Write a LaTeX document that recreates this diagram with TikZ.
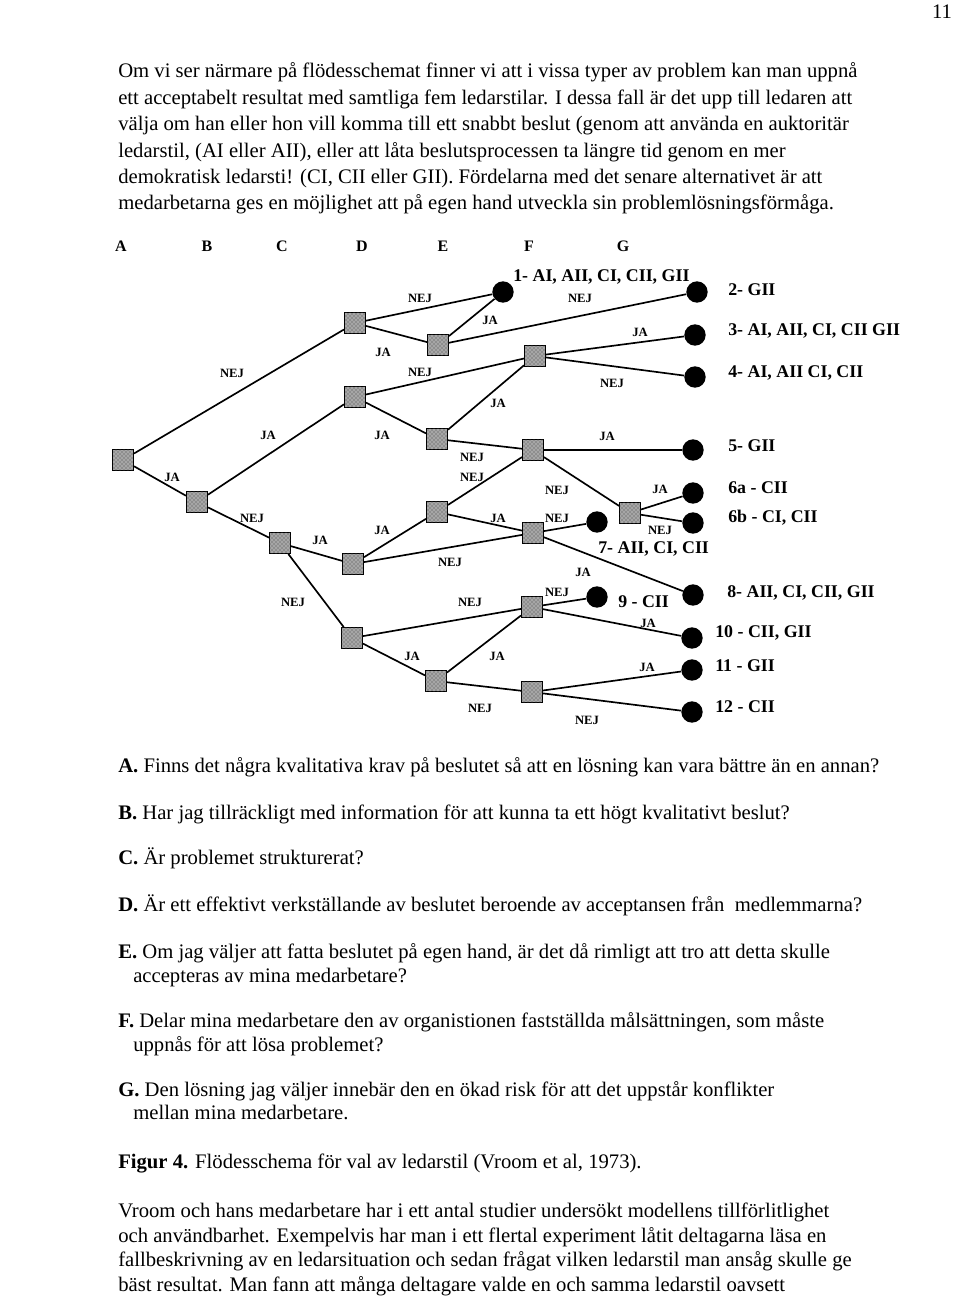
\documentclass[tikz,border=0pt]{standalone}
\usepackage{fontspec}
\setmainfont{Liberation Serif}
\usetikzlibrary{patterns}
\begin{document}
\begin{tikzpicture}[x=0.75pt,y=-0.75pt,
 box/.style={draw=black,line width=1pt,fill=black!35,postaction={pattern=crosshatch dots,pattern color=black!75},minimum size=15.5pt,inner sep=0pt},
 leaf/.style={circle,fill=black,minimum size=16pt,inner sep=0pt},
 edge/.style={line width=1.25pt},
 yn/.style={font=\bfseries\fontsize{9.5}{10}\selectfont,inner sep=0pt},
 res/.style={font=\bfseries\fontsize{13.4}{14}\selectfont,anchor=west,inner sep=0pt},
 col/.style={font=\bfseries\fontsize{12}{13}\selectfont,inner sep=0pt},
 body/.style={font=\fontsize{15.5}{19}\selectfont,anchor=base west,inner sep=0pt},
]
\useasboundingbox[fill=white] (0,0) rectangle (960,1306);

% page number
\node[font=\fontsize{15.5}{19}\selectfont,inner sep=0pt] (pg) at (942,12) {11};

% opening paragraph
\node[body] (p1) at (118,78) {Om vi ser närmare på flödesschemat finner vi att i vissa typer av problem kan man uppnå};
\node[body] (p2) at (118,104) {ett acceptabelt resultat med samtliga fem ledarstilar. I dessa fall är det upp till ledaren att};
\node[body] (p3) at (118,130) {välja om han eller hon vill komma till ett snabbt beslut (genom att använda en auktoritär};
\node[body] (p4) at (118,157) {ledarstil, (AI eller AII), eller att låta beslutsprocessen ta längre tid genom en mer};
\node[body] (p5) at (118,183) {demokratisk ledarsti! (CI, CII eller GII). Fördelarna med det senare alternativet är att};
\node[body] (p6) at (118,209) {medarbetarna ges en möjlighet att på egen hand utveckla sin problemlösningsförmåga.};

% column headers
\node[col] (hA) at (121,246) {A};
\node[col] (hB) at (207,246) {B};
\node[col] (hC) at (282,246) {C};
\node[col] (hD) at (362,246) {D};
\node[col] (hE) at (443,246) {E};
\node[col] (hF) at (529,246) {F};
\node[col] (hG) at (623,246) {G};

% decision nodes
\node[box] (A0) at (123,460) {};
\node[box] (B0) at (197,502) {};
\node[box] (C0) at (280,543) {};
\node[box] (D1) at (355,323) {};
\node[box] (D2) at (355,397) {};
\node[box] (D3) at (353,564) {};
\node[box] (D4) at (352,638) {};
\node[box] (E1) at (438,345) {};
\node[box] (E2) at (437,439) {};
\node[box] (E3) at (437,512) {};
\node[box] (E4) at (436,681) {};
\node[box] (F1) at (535,356) {};
\node[box] (F2) at (533,450) {};
\node[box] (F3) at (533,533) {};
\node[box] (F4) at (532,607) {};
\node[box] (F5) at (532,692) {};
\node[box] (G1) at (630,513) {};

% outcomes
\node[leaf] (L1) at (503,292) {};
\node[leaf] (L2) at (697,292) {};
\node[leaf] (L3) at (695,335) {};
\node[leaf] (L4) at (695,377) {};
\node[leaf] (L5) at (693,450) {};
\node[leaf] (L6a) at (693,493) {};
\node[leaf] (L6b) at (693,523) {};
\node[leaf] (L7) at (597,522) {};
\node[leaf] (L8) at (693,595) {};
\node[leaf] (L9) at (597,597) {};
\node[leaf] (L10) at (692,638) {};
\node[leaf] (L11) at (692,670) {};
\node[leaf] (L12) at (692,712) {};

% connectors
\draw[edge] (A0) -- (D1);
\draw[edge] (A0) -- (B0);
\draw[edge] (D1) -- (L1);
\draw[edge] (D1) -- (E1);
\draw[edge] (E1) -- (L1);
\draw[edge] (E1) -- (L2);
\draw[edge] (B0) -- (D2);
\draw[edge] (D2) -- (F1);
\draw[edge] (D2) -- (E2);
\draw[edge] (E2) -- (F1);
\draw[edge] (E2) -- (F2);
\draw[edge] (F1) -- (L3);
\draw[edge] (F1) -- (L4);
\draw[edge] (B0) -- (C0);
\draw[edge] (C0) -- (D3);
\draw[edge] (C0) -- (D4);
\draw[edge] (D3) -- (E3);
\draw[edge] (D3) -- (F3);
\draw[edge] (E3) -- (F2);
\draw[edge] (E3) -- (F3);
\draw[edge] (F2) -- (L5);
\draw[edge] (F2) -- (G1);
\draw[edge] (G1) -- (L6a);
\draw[edge] (G1) -- (L6b);
\draw[edge] (F3) -- (L7);
\draw[edge] (F3) -- (L8);
\draw[edge] (D4) -- (F4);
\draw[edge] (D4) -- (E4);
\draw[edge] (E4) -- (F4);
\draw[edge] (E4) -- (F5);
\draw[edge] (F4) -- (L9);
\draw[edge] (F4) -- (L10);
\draw[edge] (F5) -- (L11);
\draw[edge] (F5) -- (L12);

% branch labels
\node[yn] (y1) at (232,373) {NEJ};
\node[yn] (y2) at (172,477) {JA};
\node[yn] (y3) at (420,298) {NEJ};
\node[yn] (y4) at (383,352) {JA};
\node[yn] (y5) at (490,320) {JA};
\node[yn] (y6) at (580,298) {NEJ};
\node[yn] (y7) at (268,435) {JA};
\node[yn] (y8) at (420,372) {NEJ};
\node[yn] (y9) at (382,435) {JA};
\node[yn] (y10) at (498,403) {JA};
\node[yn] (y11) at (472,457) {NEJ};
\node[yn] (y12) at (640,332) {JA};
\node[yn] (y13) at (612,383) {NEJ};
\node[yn] (y14) at (252,518) {NEJ};
\node[yn] (y15) at (320,540) {JA};
\node[yn] (y16) at (293,602) {NEJ};
\node[yn] (y17) at (382,530) {JA};
\node[yn] (y18) at (450,562) {NEJ};
\node[yn] (y19) at (472,477) {NEJ};
\node[yn] (y20) at (498,518) {JA};
\node[yn] (y21) at (607,436) {JA};
\node[yn] (y22) at (557,490) {NEJ};
\node[yn] (y23) at (660,489) {JA};
\node[yn] (y24) at (660,530) {NEJ};
\node[yn] (y25) at (557,518) {NEJ};
\node[yn] (y26) at (583,572) {JA};
\node[yn] (y27) at (470,602) {NEJ};
\node[yn] (y28) at (412,656) {JA};
\node[yn] (y29) at (497,656) {JA};
\node[yn] (y30) at (480,708) {NEJ};
\node[yn] (y31) at (557,592) {NEJ};
\node[yn] (y32) at (648,623) {JA};
\node[yn] (y33) at (647,667) {JA};
\node[yn] (y34) at (587,720) {NEJ};

% outcome labels
\node[res] (r1) at (513,277) {1- AI, AII, CI, CII, GII};
\node[res] (r2) at (728,290) {2- GII};
\node[res] (r3) at (728,331) {3- AI, AII, CI, CII GII};
\node[res] (r4) at (728,373) {4- AI, AII CI, CII};
\node[res] (r5) at (728,446) {5- GII};
\node[res] (r6a) at (728,488) {6a - CII};
\node[res] (r6b) at (728,518) {6b - CI, CII};
\node[res] (r7) at (598,549) {7- AII, CI, CII};
\node[res] (r8) at (727,593) {8- AII, CI, CII, GII};
\node[res] (r9) at (618,602) {9 - CII};
\node[res] (r10) at (715,633) {10 - CII, GII};
\node[res] (r11) at (715,666) {11 - GII};
\node[res] (r12) at (715,707) {12 - CII};

% questions
\node[body] (qA) at (118,772) {\textbf{A.} Finns det några kvalitativa krav på beslutet så att en lösning kan vara bättre än en annan?};
\node[body] (qB) at (118,819) {\textbf{B.} Har jag tillräckligt med information för att kunna ta ett högt kvalitativt beslut?};
\node[body] (qC) at (118,864) {\textbf{C.} Är problemet strukturerat?};
\node[body] (qD) at (118,911) {\textbf{D.} Är ett effektivt verkställande av beslutet beroende av acceptansen från\ \ medlemmarna?};
\node[body] (qE) at (118,958) {\textbf{E.} Om jag väljer att fatta beslutet på egen hand, är det då rimligt att tro att detta skulle};
\node[body] (qE2) at (133,982) {accepteras av mina medarbetare?};
\node[body] (qF) at (118,1027) {\textbf{F.} Delar mina medarbetare den av organistionen fastställda målsättningen, som måste};
\node[body] (qF2) at (133,1051) {uppnås för att lösa problemet?};
\node[body] (qG) at (118,1096) {\textbf{G.} Den lösning jag väljer innebär den en ökad risk för att det uppstår konflikter};
\node[body] (qG2) at (133,1119) {mellan mina medarbetare.};

% caption
\node[body] (cap) at (118,1168) {\textbf{Figur 4.} Flödesschema för val av ledarstil (Vroom et al, 1973).};

% closing paragraph
\node[body] (e1) at (118,1217) {Vroom och hans medarbetare har i ett antal studier undersökt modellens tillförlitlighet};
\node[body] (e2) at (118,1242) {och användbarhet. Exempelvis har man i ett flertal experiment låtit deltagarna läsa en};
\node[body] (e3) at (118,1266) {fallbeskrivning av en ledarsituation och sedan frågat vilken ledarstil man ansåg skulle ge};
\node[body] (e4) at (118,1291) {bäst resultat. Man fann att många deltagare valde en och samma ledarstil oavsett};
\end{tikzpicture}
\end{document}
